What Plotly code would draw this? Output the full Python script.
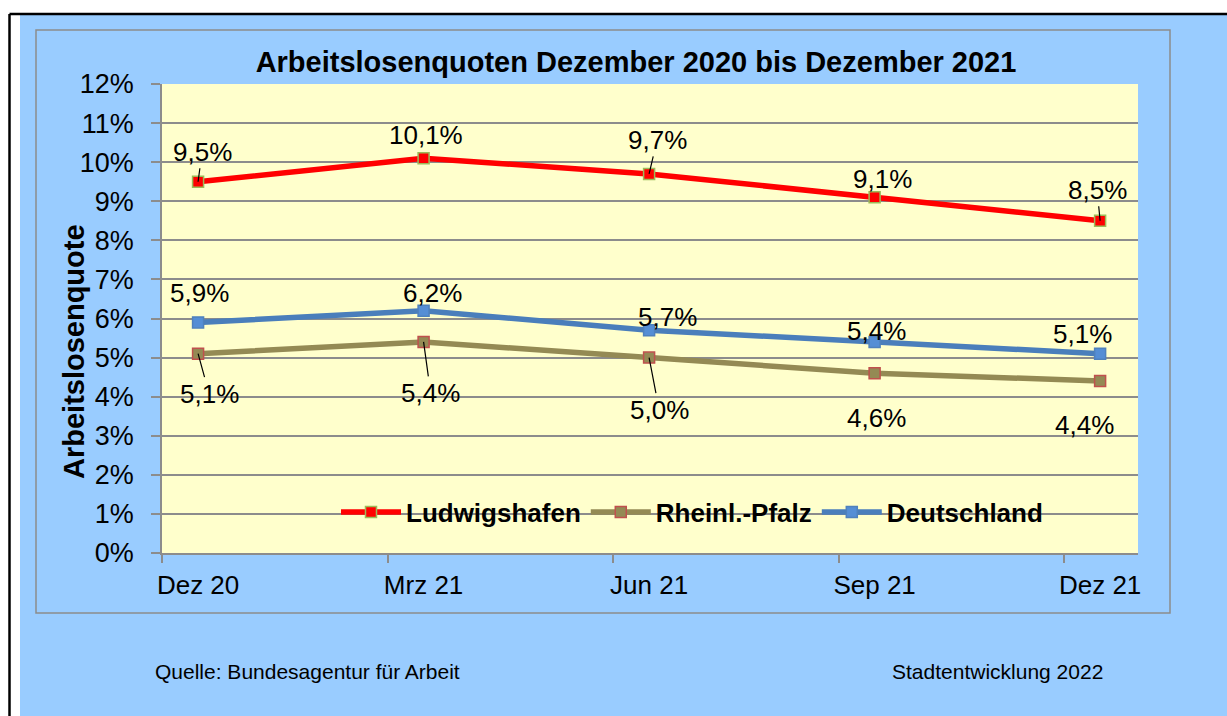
import plotly.graph_objects as go

# ---------------- data ----------------
categories = ["Dez 20", "Mrz 21", "Jun 21", "Sep 21", "Dez 21"]
ludwigshafen = [9.5, 10.1, 9.7, 9.1, 8.5]
rheinland_pfalz = [5.1, 5.4, 5.0, 4.6, 4.4]
deutschland = [5.9, 6.2, 5.7, 5.4, 5.1]
series_names = ["Ludwigshafen", "Rheinl.-Pfalz", "Deutschland"]
y_ticks = list(range(0, 13))
y_tick_labels = [f"{v}%" for v in y_ticks]

title_text = "Arbeitslosenquoten Dezember 2020 bis Dezember 2021"
y_title = "Arbeitslosenquote"
source_text = "Quelle: Bundesagentur für Arbeit"
credit_text = "Stadtentwicklung 2022"

# ---------------- layout geometry (pixels) ----------------
W, H = 1227, 716
L, R, T, B = 162, 1138, 84, 553
PW, PH = R - L, B - T


def px(x):
    return (x - L) / PW


def py(y):
    return (B - y) / PH


FONT = "Arial, Liberation Sans, sans-serif"
GRAY = "#8C8C8C"

# label offsets (dx, dy in px, leader line?) per series / point
label_style = {
    "Ludwigshafen": [(4, -30, True), (2, -23, False), (8, -34, True), (8, -18, False), (-3, -31, True)],
    "Rheinl.-Pfalz": [(11, 40, True), (7, 51, True), (10, 52, True), (2, 45, False), (-16, 44, False)],
    "Deutschland": [(1, -29, False), (9, -18, False), (18, -13, False), (2, -11, False), (-18, -20, False)],
}

styles = {
    "Ludwigshafen": dict(line="#FF0000", mfill="#FF0000", mline="#9BBB59"),
    "Rheinl.-Pfalz": dict(line="#948A54", mfill="#948A54", mline="#C0504D"),
    "Deutschland": dict(line="#4A7EBB", mfill="#558ED5", mline="#4F81BD"),
}

xs = list(range(len(categories)))
fig = go.Figure()
all_values = {"Ludwigshafen": ludwigshafen, "Rheinl.-Pfalz": rheinland_pfalz, "Deutschland": deutschland}

annotations = []
for name in series_names:
    vals = all_values[name]
    st = styles[name]
    fig.add_trace(go.Scatter(
        x=xs, y=vals, name=name, mode="lines+markers",
        line=dict(color=st["line"], width=5.5),
        marker=dict(symbol="square", size=11, color=st["mfill"],
                    line=dict(color=st["mline"], width=1.5)),
    ))
    for xi, v, (dx, dy, leader) in zip(xs, vals, label_style[name]):
        txt = f"{v:.1f}".replace(".", ",") + "%"
        if leader:
            annotations.append(dict(
                x=xi, y=v, xref="x", yref="y", text=txt, showarrow=True,
                ax=dx, ay=dy, arrowhead=0, arrowwidth=1.2, arrowcolor="black",
                standoff=0, startstandoff=0,
                font=dict(family=FONT, size=26, color="black")))
        else:
            annotations.append(dict(
                x=xi, y=v, xref="x", yref="y", text=txt, showarrow=False,
                xshift=dx, yshift=-dy,
                font=dict(family=FONT, size=26, color="black")))

# axis title (rotated)
annotations.append(dict(
    x=px(74), y=py(352), xref="paper", yref="paper", text=y_title, textangle=-90,
    showarrow=False, xanchor="center", yanchor="middle",
    font=dict(family=FONT, size=29, color="black", weight="bold")))
# footer
annotations.append(dict(
    x=px(153), y=py(671), xref="paper", yref="paper", text=source_text,
    showarrow=False, xanchor="left", yanchor="middle",
    font=dict(family=FONT, size=21, color="black")))
annotations.append(dict(
    x=px(1105), y=py(671), xref="paper", yref="paper", text=credit_text,
    showarrow=False, xanchor="right", yanchor="middle",
    font=dict(family=FONT, size=21, color="black")))

shapes = [
    # white margins outside the blue frame
    dict(type="rect", xref="paper", yref="paper", x0=px(0), x1=px(20), y0=py(H), y1=py(0),
         fillcolor="white", line=dict(width=0), layer="above"),
    dict(type="rect", xref="paper", yref="paper", x0=px(0), x1=px(W), y0=py(15), y1=py(0),
         fillcolor="white", line=dict(width=0), layer="above"),
    # black frame lines
    dict(type="line", xref="paper", yref="paper", x0=px(9.5), x1=px(W), y0=py(14), y1=py(14),
         line=dict(color="black", width=2.5), layer="above"),
    dict(type="line", xref="paper", yref="paper", x0=px(9.5), x1=px(9.5), y0=py(14), y1=py(H),
         line=dict(color="black", width=2.5), layer="above"),
    # inner chart border
    dict(type="rect", xref="paper", yref="paper", x0=px(36), x1=px(1170), y0=py(613), y1=py(30),
         line=dict(color=GRAY, width=1.5), fillcolor="rgba(0,0,0,0)", layer="above"),
]

fig.update_layout(
    width=W, height=H, autosize=False,
    margin=dict(l=L, r=W - R, t=T, b=H - B, pad=0),
    paper_bgcolor="#99CCFF", plot_bgcolor="#FFFFCC",
    title=dict(text=title_text, x=636 / W, y=1 - 62 / H, xref="container", yref="container",
               xanchor="center", yanchor="middle",
               font=dict(family=FONT, size=29, color="black", weight="bold")),
    xaxis=dict(
        range=[-0.16, 4.168], tickmode="array", tickvals=xs, ticktext=categories,
        ticks="outside", ticklen=8, tickcolor="rgba(0,0,0,0)",
        showgrid=False, zeroline=False, showline=True, linecolor=GRAY, linewidth=1.5,
        tickfont=dict(family=FONT, size=26, color="black"),
        minor=dict(tickmode="array", tickvals=[x - 0.16 for x in xs], ticks="outside",
                   ticklen=8, tickcolor=GRAY, tickwidth=1.5, showgrid=False),
    ),
    yaxis=dict(
        range=[0, 12], tickmode="array", tickvals=y_ticks, ticktext=y_tick_labels,
        ticks="outside", ticklen=9, tickcolor=GRAY, tickwidth=1.5, ticklabelstandoff=12,
        showgrid=True, gridcolor=GRAY, gridwidth=1.5, zeroline=False,
        showline=True, linecolor=GRAY, linewidth=1.5,
        tickfont=dict(family=FONT, size=27, color="black"),
    ),
    legend=dict(
        orientation="h", x=px(692), y=py(512), xanchor="center", yanchor="middle",
        itemwidth=60,
        bgcolor="rgba(0,0,0,0)", font=dict(family=FONT, size=26, color="black", weight="bold"),
    ),
    annotations=annotations,
    shapes=shapes,
)

fig.write_html("out.html", config={"displayModeBar": False})

# remove the browser's default page margin so the figure sits at (0, 0)
with open("out.html", "r", encoding="utf-8") as f:
    html = f.read()
html = html.replace("<head>", "<head><style>html,body{margin:0;padding:0;overflow:hidden;}</style>", 1)
with open("out.html", "w", encoding="utf-8") as f:
    f.write(html)
